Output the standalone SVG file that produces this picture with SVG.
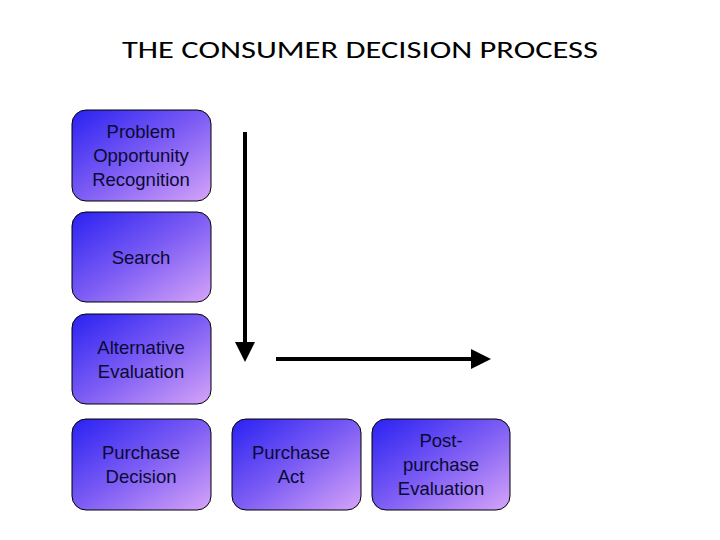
<svg xmlns="http://www.w3.org/2000/svg" width="720" height="540" viewBox="0 0 720 540">
<defs>
<linearGradient id="g" x1="0" y1="0" x2="1" y2="1">
<stop offset="0" stop-color="#2a22f2"/>
<stop offset="0.5" stop-color="#7c5cf4"/>
<stop offset="1" stop-color="#d6a4f8"/>
</linearGradient>
<marker id="ah" viewBox="0 0 10 10" refX="2" refY="5" markerWidth="5" markerHeight="5" orient="auto" markerUnits="strokeWidth"><path d="M0,0 L10,5 L0,10 z" fill="#000"/></marker>
<style>
.b{fill:url(#g);stroke:#000;stroke-width:1}
.t{font-family:"Liberation Sans",Arial,sans-serif;font-size:18.5px;fill:#0a0a33;text-anchor:middle}
.a{stroke:#000;stroke-width:4;fill:none}
</style>
</defs>
<rect width="720" height="540" fill="#fff"/>
<text x="360" y="58" font-family="Calibri,'Open Sans','Liberation Sans',sans-serif" font-size="25" text-anchor="middle" fill="#000" textLength="476" lengthAdjust="spacingAndGlyphs">THE CONSUMER DECISION PROCESS</text>
<g id="n1"><rect class="b" x="72" y="110" width="139" height="91" rx="14"/><text class="t" x="141" y="138">Problem</text><text class="t" x="141" y="162">Opportunity</text><text class="t" x="141" y="186">Recognition</text></g>
<g id="n2"><rect class="b" x="72" y="212" width="139" height="90" rx="14"/><text class="t" x="141" y="264">Search</text></g>
<g id="n3"><rect class="b" x="72" y="314" width="139" height="90" rx="14"/><text class="t" x="141" y="354">Alternative</text><text class="t" x="141" y="378">Evaluation</text></g>
<g id="n4"><rect class="b" x="72" y="419" width="139" height="91" rx="14"/><text class="t" x="141" y="459">Purchase</text><text class="t" x="141" y="483">Decision</text></g>
<g id="n5"><rect class="b" x="232" y="419" width="129" height="91" rx="14"/><text class="t" x="291" y="459">Purchase</text><text class="t" x="291" y="483">Act</text></g>
<g id="n6"><rect class="b" x="372" y="419" width="138" height="91" rx="14"/><text class="t" x="441" y="447">Post-</text><text class="t" x="441" y="471">purchase</text><text class="t" x="441" y="495">Evaluation</text></g>
<g id="connectors">
<line class="a" x1="245" y1="132" x2="245" y2="346" marker-end="url(#ah)"/>
<line class="a" x1="276" y1="359" x2="475" y2="359" marker-end="url(#ah)"/>
</g>
</svg>
